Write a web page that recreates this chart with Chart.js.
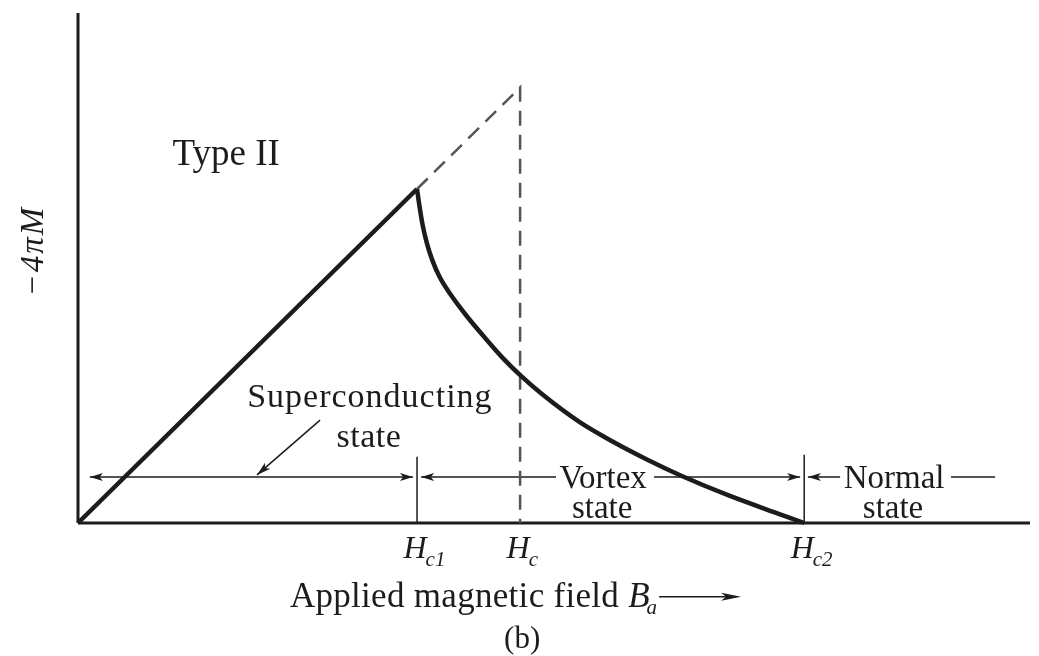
<!DOCTYPE html>
<html lang="en">
<head>
<meta charset="UTF-8">
<title>Type II magnetization curve</title>
<script src="https://cdn.jsdelivr.net/npm/chart.js"></script>
<style>
body {
    margin: 0;
    background-color: #fff;
    overflow: hidden;
}
</style>
</head>
<body>
<canvas id="chart" width="1039" height="656"></canvas>
<script>
// field in units of Hc1, -4piM in units of its value at Hc1
const meissnerX = [0, 1.0];
const meissnerY = [0, 1.0];
const vortexX = [1.0, 1.007, 1.016, 1.029, 1.045, 1.066, 1.097, 1.147, 1.206, 1.254, 1.309, 1.372, 1.481, 1.578, 1.678, 1.776, 1.923, 2.071, 2.142];
const vortexY = [1.0, 0.95, 0.895, 0.838, 0.787, 0.738, 0.687, 0.619, 0.548, 0.493, 0.438, 0.383, 0.301, 0.243, 0.190, 0.143, 0.081, 0.026, 0];
const hc1 = 1.0;
const hc = 1.304;
const hc2 = 2.142;
const fieldMarks = [hc1, hc, hc2];
const fieldSubs = ['c1', 'c', 'c2'];
const stateY = 0.138;
const xMax = 2.808;
const yMax = 1.527;

const notes = [
    { text: 'Type II', x: 0.437, y: 1.072, size: 37, spacing: 0 },
    { text: 'Superconducting', x: 0.861, y: 0.347, size: 34, spacing: 1 },
    { text: 'state', x: 0.858, y: 0.228, size: 34, spacing: 0.5 },
    { text: 'Vortex', x: 1.549, y: 0.105, size: 33, spacing: 0 },
    { text: 'state', x: 1.546, y: 0.015, size: 33, spacing: 0 },
    { text: 'Normal', x: 2.407, y: 0.105, size: 33, spacing: 0 },
    { text: 'state', x: 2.404, y: 0.015, size: 33, spacing: 0 }
];

const pts = (xs, ys) => xs.map((x, i) => ({ x: x, y: ys[i] }));
const ink = '#1c1c1c';

// horizontal state lines, null breaks between pieces
const stateLine = [
    { x: 0.035, y: stateY }, { x: 0.988, y: stateY }, { x: null, y: null },
    { x: 1.012, y: stateY }, { x: 1.41, y: stateY }, { x: null, y: null },
    { x: 1.699, y: stateY }, { x: 2.13, y: stateY }, { x: null, y: null },
    { x: 2.153, y: stateY }, { x: 2.248, y: stateY }, { x: null, y: null },
    { x: 2.575, y: stateY }, { x: 2.705, y: stateY }
];

const arrowHeads = [
    { x: 0.035, y: stateY, dir: Math.PI },
    { x: 0.988, y: stateY, dir: 0 },
    { x: 1.012, y: stateY, dir: Math.PI },
    { x: 2.13, y: stateY, dir: 0 },
    { x: 2.153, y: stateY, dir: Math.PI }
];
const pointer = [{ x: 0.714, y: 0.308 }, { x: 0.528, y: 0.144 }];

function head(ctx, x, y, ang, len, half) {
    ctx.save();
    ctx.translate(x, y);
    ctx.rotate(ang);
    ctx.beginPath();
    ctx.moveTo(0, 0);
    ctx.lineTo(-len, -half);
    ctx.lineTo(-len * 0.75, 0);
    ctx.lineTo(-len, half);
    ctx.closePath();
    ctx.fillStyle = ink;
    ctx.fill();
    ctx.restore();
}

const labelPlugin = {
    id: 'labels',
    afterDatasetsDraw(chart) {
        const ctx = chart.ctx;
        const xs = chart.scales.x;
        const ys = chart.scales.y;
        ctx.save();
        ctx.fillStyle = ink;
        ctx.textBaseline = 'alphabetic';

        // in-plot notes
        ctx.textAlign = 'center';
        notes.forEach(n => {
            ctx.font = n.size + 'px "Liberation Serif"';
            ctx.letterSpacing = n.spacing + 'px';
            ctx.fillText(n.text, xs.getPixelForValue(n.x), ys.getPixelForValue(n.y));
        });
        ctx.letterSpacing = '0px';

        // arrowheads on state lines
        arrowHeads.forEach(a => {
            head(ctx, xs.getPixelForValue(a.x), ys.getPixelForValue(a.y), a.dir, 13, 4);
        });
        const p0x = xs.getPixelForValue(pointer[0].x), p0y = ys.getPixelForValue(pointer[0].y);
        const p1x = xs.getPixelForValue(pointer[1].x), p1y = ys.getPixelForValue(pointer[1].y);
        head(ctx, p1x, p1y, Math.atan2(p1y - p0y, p1x - p0x), 14, 4);

        // field marks H_c1, H_c, H_c2 (H centred on the mark)
        ctx.textAlign = 'left';
        const baseY = ys.getPixelForValue(-0.105);
        fieldMarks.forEach((v, i) => {
            ctx.font = 'italic 32px "Liberation Serif"';
            const wH = ctx.measureText('H').width;
            const x0 = xs.getPixelForValue(v) - wH / 2 - 2;
            ctx.fillText('H', x0, baseY);
            ctx.font = 'italic 21px "Liberation Serif"';
            ctx.fillText(fieldSubs[i], x0 + wH - 1, baseY + 8);
        });

        // x axis title
        const tx = xs.getPixelForValue(0.625);
        const ty = ys.getPixelForValue(-0.251);
        ctx.font = '35px "Liberation Serif"';
        ctx.letterSpacing = '0.3px';
        const txt = 'Applied magnetic field ';
        ctx.fillText(txt, tx, ty);
        let cx = tx + ctx.measureText(txt).width;
        ctx.letterSpacing = '0px';
        ctx.font = 'italic 35px "Liberation Serif"';
        ctx.fillText('B', cx, ty);
        cx += ctx.measureText('B').width;
        ctx.font = 'italic 21px "Liberation Serif"';
        ctx.fillText('a', cx - 3, ty + 7);
        cx += ctx.measureText('a').width - 1;
        ctx.strokeStyle = ink;
        ctx.lineWidth = 1.5;
        ctx.beginPath();
        ctx.moveTo(cx, ty - 10);
        ctx.lineTo(cx + 70, ty - 10);
        ctx.stroke();
        head(ctx, cx + 82, ty - 10, 0, 20, 4);

        // panel tag
        ctx.textAlign = 'center';
        ctx.font = '31px "Liberation Serif"';
        ctx.fillText('(b)', xs.getPixelForValue(1.31), ys.getPixelForValue(-0.374));

        // y axis title
        ctx.save();
        ctx.translate(xs.getPixelForValue(-0.103), ys.getPixelForValue(0.814));
        ctx.rotate(-Math.PI / 2);
        ctx.font = 'italic 33px "Liberation Serif"';
        ctx.letterSpacing = '2px';
        ctx.fillText('\u22124\u03c0M', 0, 0);
        ctx.restore();

        ctx.restore();
    }
};

const ctx = document.getElementById('chart').getContext('2d');
const chart = new Chart(ctx, {
    type: 'scatter',
    data: {
        datasets: [
            { data: pts(meissnerX, meissnerY), borderWidth: 4.5 },
            { data: pts(vortexX, vortexY), borderWidth: 4.5, cubicInterpolationMode: 'monotone' },
            { data: [{ x: hc1, y: hc1 }, { x: hc, y: hc }, { x: hc, y: 0 }], borderWidth: 2.5, borderDash: [15, 9], borderColor: '#555' },
            { data: [{ x: 0, y: 0 }, { x: 0, y: yMax }], borderWidth: 3 },
            { data: [{ x: 0, y: 0 }, { x: xMax, y: 0 }], borderWidth: 3 },
            { data: [{ x: hc1, y: 0 }, { x: hc1, y: 0.198 }], borderWidth: 1.5 },
            { data: [{ x: hc2, y: 0 }, { x: hc2, y: 0.204 }], borderWidth: 1.5 },
            { data: stateLine, borderWidth: 1.5, spanGaps: false },
            { data: pointer, borderWidth: 1.5 }
        ]
    },
    options: {
        responsive: false,
        animation: false,
        devicePixelRatio: 1,
        layout: { padding: { left: 78, right: 9, top: 13, bottom: 133 } },
        datasets: {
            scatter: {
                showLine: true,
                pointRadius: 0,
                borderColor: ink,
                clip: false
            }
        },
        scales: {
            x: { type: 'linear', min: 0, max: xMax, display: false },
            y: { type: 'linear', min: 0, max: yMax, display: false }
        },
        plugins: {
            legend: { display: false },
            tooltip: { enabled: false }
        }
    },
    plugins: [labelPlugin]
});
</script>
</body>
</html>
